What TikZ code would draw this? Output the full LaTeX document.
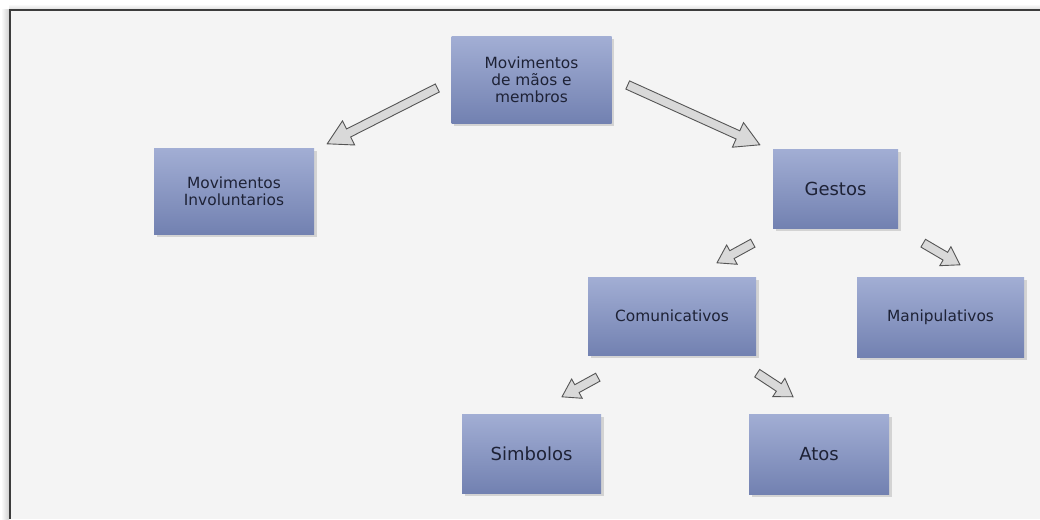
\documentclass[tikz,border=0pt]{standalone}
\usepackage{fontspec}
\setmainfont{DejaVu Sans}
\usetikzlibrary{calc,shadows}

\definecolor{boxtop}{HTML}{A2AED4}
\definecolor{boxbot}{HTML}{7281B1}
\definecolor{boxtext}{HTML}{1E2236}
\definecolor{panel}{HTML}{F4F4F4}
\definecolor{frameline}{HTML}{3C3C3C}
\definecolor{arrowfill}{HTML}{D9D9D9}
\definecolor{arrowline}{HTML}{555555}

\tikzset{
  box/.style={rectangle, inner sep=0pt, top color=boxtop, bottom color=boxbot,
    text=boxtext, align=center,
    drop shadow={shadow xshift=2.5pt, shadow yshift=-2.5pt, opacity=0.28}},
  smalltext/.style={font=\fontsize{15.4}{17.2}\selectfont},
  bigtext/.style={font=\fontsize{18}{21}\selectfont},
  arrowbody/.style={fill=arrowfill, draw=arrowline, line width=0.9pt, line join=miter},
}

% block arrow: #1 tail, #2 tip, #3 shaft half width, #4 head half width, #5 head length
\newcommand\blockarrow[5]{%
  \coordinate (hb) at ($(#2)!#5!(#1)$);
  \draw[arrowbody]
    ($(#1)!#3!90:(#2)$) -- ($(hb)!#3!-90:(#1)$) -- ($(hb)!#4!-90:(#1)$)
    -- (#2) -- ($(hb)!#4!90:(#1)$) -- ($(hb)!#3!90:(#1)$)
    -- ($(#1)!#3!-90:(#2)$) -- cycle;
}

\begin{document}
\begin{tikzpicture}[x=1pt, y=-1pt]
  % page and frame
  \fill[white] (0,0) rectangle (1040,519);
  \useasboundingbox (0,0) rectangle (1040,519);
  \fill[left color=white, right color=black!18] (1,10) rectangle (9,519);
  \fill[top color=white, bottom color=black!12] (9,4) rectangle (1040,9);
  \fill[panel] (10,11) rectangle (1040,519);
  \draw[frameline, line width=2pt] (9.5,519) -- (9.5,10) -- (1040,10);

  % boxes
  \node[box, smalltext, minimum width=160pt, minimum height=86pt] (top) at (531.5,80)
    {Movimentos\\de mãos e\\membros};
  \node[box, smalltext, minimum width=160pt, minimum height=86pt] (inv) at (234,191)
    {Movimentos\\Involuntarios};
  \node[box, bigtext, minimum width=125pt, minimum height=79pt] (ges) at (835.5,188.5)
    {Gestos};
  \node[box, smalltext, minimum width=168pt, minimum height=78pt] (com) at (672,316)
    {Comunicativos};
  \node[box, smalltext, minimum width=167pt, minimum height=80pt] (man) at (940.5,317)
    {Manipulativos};
  \node[box, bigtext, minimum width=139pt, minimum height=79pt] (sim) at (531.5,453.5)
    {Simbolos};
  \node[box, bigtext, minimum width=140pt, minimum height=80pt] (ato) at (819,454)
    {Atos};

  % arrow end points
  \coordinate (a1t) at ($(top.west)+(-14,8)$);
  \coordinate (a1h) at ($(inv.north east)+(13,-4)$);
  \coordinate (a2t) at ($(top.east)+(16,5)$);
  \coordinate (a2h) at ($(ges.north west)+(-13,-4)$);
  \coordinate (a3t) at ($(ges.south west)+(-20,15)$);
  \coordinate (a3h) at ($(com.north)+(45,-14)$);
  \coordinate (a4t) at ($(ges.south east)+(25,15)$);
  \coordinate (a4h) at ($(man.north)+(19.5,-12)$);
  \coordinate (a5t) at ($(com.south west)+(10,22)$);
  \coordinate (a5h) at ($(sim.north)+(30.5,-17)$);
  \coordinate (a6t) at ($(com.south east)+(1,18)$);
  \coordinate (a6h) at ($(ato.north)+(-26,-17)$);

  % arrows
  \blockarrow{a1t}{a1h}{4.5pt}{13.5pt}{24pt}
  \blockarrow{a2t}{a2h}{4.5pt}{13.5pt}{24pt}
  \blockarrow{a3t}{a3h}{4.5pt}{11pt}{17pt}
  \blockarrow{a4t}{a4h}{4.5pt}{11pt}{17pt}
  \blockarrow{a5t}{a5h}{4.5pt}{11pt}{17pt}
  \blockarrow{a6t}{a6h}{4.5pt}{11pt}{17pt}
\end{tikzpicture}
\end{document}
